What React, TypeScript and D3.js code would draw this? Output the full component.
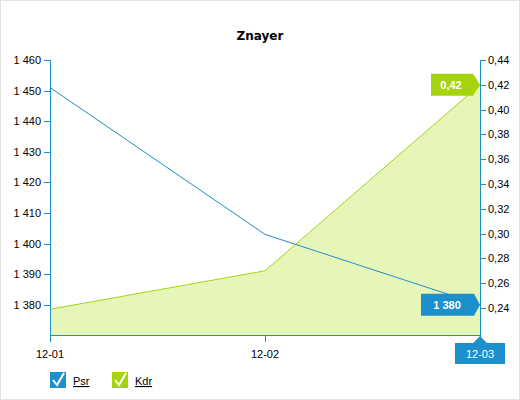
import React from "react";
import * as d3 from "d3";

const categories = ["12-01", "12-02", "12-03"];
const psrValues = [1451, 1403, 1380];
const kdrValues = [0.239, 0.27, 0.42];
const leftTicks = [1380, 1390, 1400, 1410, 1420, 1430, 1440, 1450, 1460];
const rightTicks = [0.24, 0.26, 0.28, 0.3, 0.32, 0.34, 0.36, 0.38, 0.4, 0.42, 0.44];
const seriesNames = ["Psr", "Kdr"];

const W = 520, H = 400;
const M = { left: 50, right: 480, top: 60, bottom: 335 };
const BLUE = "#1c8fcc";
const GREEN = "#a5d40f";
const FILL = "#e6f5b8";
const FONT = "'Liberation Sans', Arial, sans-serif";

const fmtLeft = (v: number) => d3.format(",")(v).replace(/,/g, " ");
const fmtRight = (v: number) => d3.format(".2f")(v).replace(".", ",");

export default function App() {
  const x = d3.scalePoint<string>().domain(categories).range([M.left, M.right]);
  const yL = d3.scaleLinear().domain([1370.1, 1460]).range([M.bottom, M.top]);
  const yR = d3.scaleLinear().domain([0.2182, 0.44]).range([M.bottom, M.top]);

  const psrLine = d3.line<number>().x((_, i) => x(categories[i])!).y((d) => yL(d))(psrValues)!;
  const kdrLine = d3.line<number>().x((_, i) => x(categories[i])!).y((d) => yR(d))(kdrValues)!;
  const kdrArea = d3
    .area<number>()
    .x((_, i) => x(categories[i])!)
    .y0(M.bottom)
    .y1((d) => yR(d))(kdrValues)!;

  const lastX = x(categories[2])!;
  const kY = yR(kdrValues[2]);
  const pY = yL(psrValues[2]);

  return (
    <svg
      width={W}
      height={H}
      style={{ position: "absolute", left: 0, top: 0, fontFamily: FONT }}
    >
      <rect x={0.5} y={0.5} width={W - 1} height={H - 1} fill="#fff" stroke="#e2e2e2" />
      <text x={260} y={40} textAnchor="middle" fontSize={12} fontWeight="bold" fill="#000"
        fontFamily="'DejaVu Sans', Verdana, sans-serif">
        Znayer
      </text>

      <path d={kdrArea} fill={FILL} />
      <path d={kdrLine} fill="none" stroke={GREEN} strokeWidth={1} />
      <path d={psrLine} fill="none" stroke={BLUE} strokeWidth={1} />

      {/* left axis */}
      <line x1={M.left + 0.5} x2={M.left + 0.5} y1={M.top} y2={M.bottom + 7} stroke={BLUE} />
      {leftTicks.map((t) => (
        <g key={t}>
          <line x1={M.left - 6} x2={M.left} y1={Math.round(yL(t)) + 0.5} y2={Math.round(yL(t)) + 0.5} stroke={BLUE} />
          <text x={M.left - 9} y={yL(t) + 4} textAnchor="end" fontSize={11} fill="#000">
            {fmtLeft(t)}
          </text>
        </g>
      ))}

      {/* right axis */}
      <line x1={M.right + 0.5} x2={M.right + 0.5} y1={M.top} y2={M.bottom + 7} stroke={BLUE} />
      {rightTicks.map((t) => (
        <g key={t}>
          <line x1={M.right} x2={M.right + 6} y1={Math.round(yR(t)) + 0.5} y2={Math.round(yR(t)) + 0.5} stroke={BLUE} />
          <text x={M.right + 8} y={yR(t) + 4} textAnchor="start" fontSize={11} fill="#000">
            {fmtRight(t)}
          </text>
        </g>
      ))}

      {/* bottom axis */}
      <line x1={M.left} x2={M.right} y1={M.bottom + 0.5} y2={M.bottom + 0.5} stroke={BLUE} />
      {categories.map((c, i) => (
        <g key={c}>
          <line x1={x(c)! + 0.5} x2={x(c)! + 0.5} y1={M.bottom} y2={M.bottom + 7} stroke={BLUE} />
          {i < 2 && (
            <text x={x(c)!} y={M.bottom + 23} textAnchor="middle" fontSize={11} fill="#000">
              {c}
            </text>
          )}
        </g>
      ))}

      {/* x crosshair label */}
      <path
        d={`M${lastX - 25},${M.bottom + 8} H${lastX - 7} L${lastX},${M.bottom + 1} L${lastX + 7},${M.bottom + 8} H${lastX + 25} V${M.bottom + 29} H${lastX - 25} Z`}
        fill={BLUE}
      />
      <text x={lastX} y={M.bottom + 23} textAnchor="middle" fontSize={11} fill="#fff">
        {categories[2]}
      </text>

      {/* Kdr value label */}
      <path
        d={`M${lastX - 49},${kY - 11} H${lastX - 7} L${lastX},${kY} L${lastX - 7},${kY + 11} H${lastX - 49} Z`}
        fill={GREEN}
      />
      <text x={lastX - 29} y={kY + 4} textAnchor="middle" fontSize={11} fontWeight="bold" fill="#fff">
        {fmtRight(kdrValues[2])}
      </text>

      {/* Psr value label */}
      <path
        d={`M${lastX - 59},${pY - 11} H${lastX - 6} L${lastX},${pY} L${lastX - 6},${pY + 11} H${lastX - 59} Z`}
        fill={BLUE}
      />
      <text x={lastX - 33} y={pY + 4} textAnchor="middle" fontSize={11} fontWeight="bold" fill="#fff">
        {fmtLeft(psrValues[2])}
      </text>

      {/* legend */}
      {seriesNames.map((n, i) => {
        const lx = 50 + i * 62;
        const col = i === 0 ? BLUE : GREEN;
        return (
          <g key={n}>
            <rect x={lx} y={372} width={16} height={16} fill={col} />
            <path d={`M${lx + 3},${380} L${lx + 7},${385} L${lx + 14},${373}`} fill="none" stroke="#fff" strokeWidth={2} />
            <text x={lx + 23} y={385} fontSize={11} fill="#000" textDecoration="underline">
              {n}
            </text>
          </g>
        );
      })}
    </svg>
  );
}
